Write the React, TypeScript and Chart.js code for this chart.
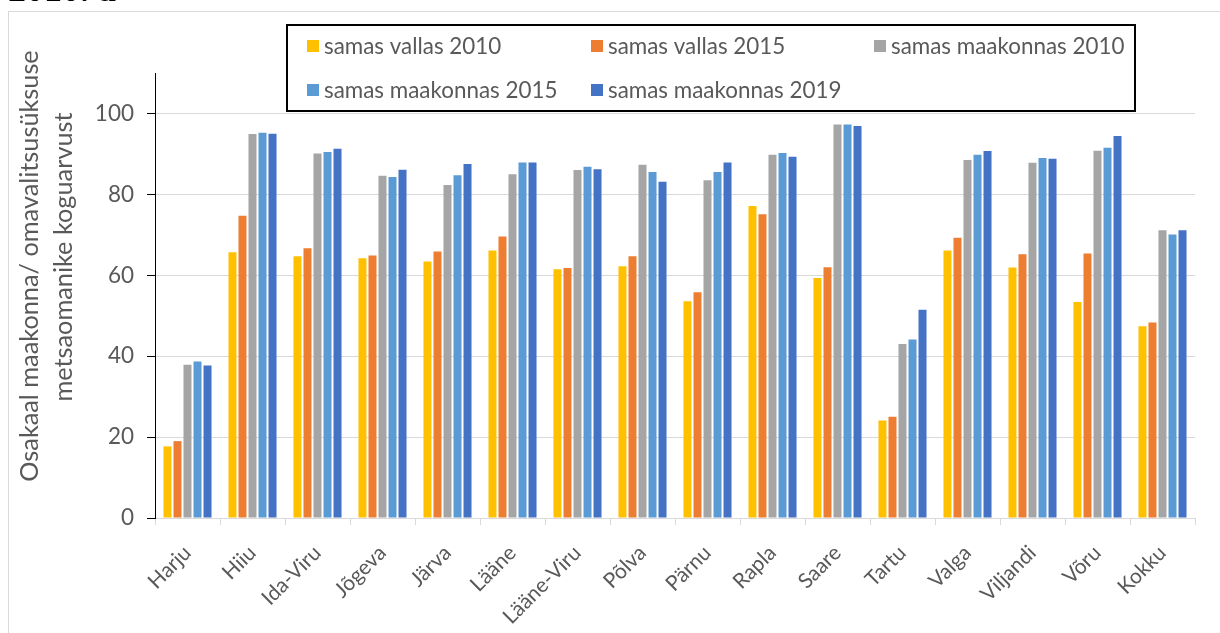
import React, { useEffect, useRef } from "react";
import { Chart, registerables } from "chart.js";

Chart.register(...registerables);

const categories = [
  "Harju", "Hiiu", "Ida-Viru", "Jõgeva", "Järva", "Lääne", "Lääne-Viru", "Põlva",
  "Pärnu", "Rapla", "Saare", "Tartu", "Valga", "Viljandi", "Võru", "Kokku",
];
const seriesLabels = [
  "samas vallas 2010",
  "samas vallas 2015",
  "samas maakonnas 2010",
  "samas maakonnas 2015",
  "samas maakonnas 2019",
];
const vallas2010 = [17.7, 65.7, 64.7, 64.2, 63.4, 66.1, 61.5, 62.2, 53.6, 77.1, 59.3, 24.1, 66.1, 61.9, 53.4, 47.4];
const vallas2015 = [19.0, 74.7, 66.7, 64.9, 65.9, 69.6, 61.8, 64.7, 55.8, 75.1, 62.0, 25.0, 69.3, 65.2, 65.4, 48.3];
const maakonnas2010 = [37.9, 94.9, 90.1, 84.6, 82.3, 85.0, 86.0, 87.3, 83.5, 89.8, 97.3, 43.0, 88.5, 87.8, 90.8, 71.1];
const maakonnas2015 = [38.7, 95.2, 90.5, 84.3, 84.7, 87.9, 86.8, 85.5, 85.5, 90.2, 97.3, 44.1, 89.8, 89.0, 91.5, 70.1];
const maakonnas2019 = [37.7, 95.0, 91.3, 86.1, 87.5, 87.9, 86.2, 83.1, 87.9, 89.3, 96.9, 51.5, 90.7, 88.8, 94.4, 71.1];
const seriesValues = [vallas2010, vallas2015, maakonnas2010, maakonnas2015, maakonnas2019];
const seriesColors = ["#FFC000", "#ED7D31", "#A5A5A5", "#5B9BD5", "#4472C4"];

const yMin = 0;
const yMax = 110;
const yStep = 20;
const yLastLabel = 100;
const axisTitleLines = ["Osakaal maakonna/ omavalitsusüksuse", "metsaomanike koguarvust"];
const headerText = "2010. a";

const FONT = "Lato, 'Noto Sans', sans-serif";
const TEXT = "#595959";
const GRID = "#D9D9D9";

const decorPlugin = {
  id: "decor",
  beforeDraw(chart: any) {
    const ctx = chart.ctx;
    ctx.save();
    ctx.strokeStyle = GRID;
    ctx.lineWidth = 1;
    ctx.strokeRect(8.5, 11.5, 1400, 800);
    ctx.restore();
  },
  afterDraw(chart: any) {
    const ctx = chart.ctx;
    ctx.save();
    // Axis title (two rotated lines)
    ctx.fillStyle = TEXT;
    ctx.font = `25.3px ${FONT}`;
    ctx.textAlign = "center";
    ctx.textBaseline = "alphabetic";
    const titlePos = [
      { x: 38, y: 266 },
      { x: 72, y: 257 },
    ];
    axisTitleLines.forEach((line, i) => {
      ctx.save();
      ctx.translate(titlePos[i].x, titlePos[i].y);
      ctx.rotate(-Math.PI / 2);
      ctx.fillText(line, 0, 0);
      ctx.restore();
    });

    // Legend box
    ctx.fillStyle = "#FFFFFF";
    ctx.fillRect(287, 25, 848, 86);
    ctx.strokeStyle = "#000000";
    ctx.lineWidth = 2;
    ctx.strokeRect(287, 25, 848, 86);
    const slots = [
      { x: 307, y: 46 },
      { x: 591, y: 46 },
      { x: 874, y: 46 },
      { x: 307, y: 90 },
      { x: 591, y: 90 },
    ];
    ctx.font = `22.4px ${FONT}`;
    ctx.textAlign = "left";
    ctx.textBaseline = "middle";
    chart.data.datasets.forEach((ds: any, i: number) => {
      const s = slots[i];
      ctx.fillStyle = ds.backgroundColor;
      ctx.fillRect(s.x, s.y - 6, 12, 12);
      ctx.fillStyle = TEXT;
      ctx.fillText(ds.label, s.x + 17, s.y + 1);
    });
    ctx.restore();
  },
};

export default function App() {
  const canvasRef = useRef<HTMLCanvasElement | null>(null);

  useEffect(() => {
    if (!canvasRef.current) return;
    const chart = new Chart(canvasRef.current, {
      type: "bar",
      data: {
        labels: categories,
        datasets: seriesValues.map((vals, i) => ({
          label: seriesLabels[i],
          data: vals,
          backgroundColor: seriesColors[i],
          borderWidth: 0,
          categoryPercentage: 0.77,
          barPercentage: 0.8,
        })),
      },
      options: {
        animation: false,
        responsive: false,
        maintainAspectRatio: false,
        devicePixelRatio: 1,
        layout: { padding: { left: 0, right: 25, top: 73, bottom: 0 } },
        plugins: {
          legend: { display: false },
          title: { display: false },
          tooltip: { enabled: false },
        },
        scales: {
          x: {
            grid: {
              display: true,
              drawOnChartArea: false,
              drawTicks: true,
              offset: true,
              tickLength: 7,
              color: GRID,
              tickColor: GRID,
            },
            border: { display: true, color: GRID, width: 1 },
            ticks: {
              minRotation: 45,
              maxRotation: 45,
              autoSkip: false,
              padding: 15.5,
              color: TEXT,
              font: { family: FONT, size: 21 },
            },
            afterFit(scale: any) {
              scale.height = 633 - 518;
            },
          },
          y: {
            min: yMin,
            max: yMax,
            ticks: {
              stepSize: yStep,
              padding: 13,
              color: TEXT,
              font: { family: FONT, size: 22.5 },
            },
            afterBuildTicks(scale: any) {
              scale.ticks = scale.ticks.filter((t: any) => t.value <= yLastLabel);
            },
            grid: {
              color: GRID,
              lineWidth: 1,
              tickLength: 8,
              tickColor: "#000000",
            },
            border: { display: true, color: "#000000", width: 1 },
            afterFit(scale: any) {
              scale.width = 155;
            },
          },
        },
      },
      plugins: [decorPlugin],
    });
    return () => chart.destroy();
  }, []);

  return (
    <div style={{ position: "absolute", left: 0, top: 0, width: 1220, height: 633, overflow: "hidden", background: "#fff" }}>
      <canvas ref={canvasRef} width={1220} height={633} style={{ position: "absolute", left: 0, top: 0, width: 1220, height: 633 }} />
      <div
        style={{
          position: "absolute",
          left: 8,
          top: -29,
          fontFamily: "'Liberation Serif', serif",
          fontWeight: "bold",
          fontSize: 36,
          lineHeight: "36px",
          color: "#000",
          whiteSpace: "nowrap",
        }}
      >
        {headerText}
      </div>
    </div>
  );
}
